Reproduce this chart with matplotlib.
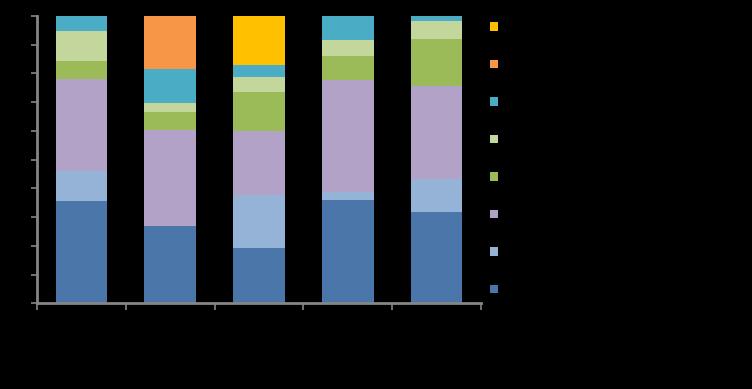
import matplotlib
matplotlib.use("Agg")
import matplotlib.pyplot as plt
from matplotlib.patches import Patch
import numpy as np

categories = ["Category 1", "Category 2", "Category 3", "Category 4", "Category 5"]
series_names = ["Series 1", "Series 2", "Series 3", "Series 4",
                "Series 5", "Series 6", "Series 7", "Series 8"]
s1 = [35.7, 27.0, 19.2, 35.9, 31.9]
s2 = [10.5, 0.0, 18.5, 3.0, 11.4]
s3 = [31.8, 33.4, 22.3, 38.9, 32.3]
s4 = [6.5, 6.3, 13.5, 8.3, 16.3]
s5 = [10.4, 3.1, 5.4, 5.6, 6.4]
s6 = [5.1, 11.8, 4.1, 8.3, 1.6]
s7 = [0.0, 18.4, 0.0, 0.0, 0.0]
s8 = [0.0, 0.0, 17.0, 0.0, 0.0]
yticks = [0, 10, 20, 30, 40, 50, 60, 70, 80, 90, 100]
ytick_labels = [f"{v}%" for v in yticks]

colors = ["#4A76AA", "#95B3D7", "#B3A2C7", "#9BBB59",
          "#C3D69B", "#4BACC6", "#F79646", "#FFC000"]

series = [s1, s2, s3, s4, s5, s6, s7, s8]

fig = plt.figure(figsize=(7.52, 3.89), dpi=100, facecolor="black")
ax = fig.add_axes([0.0492, 0.2198, 0.5904, 0.7391])
ax.set_facecolor("black")

x = np.arange(len(categories))
bottom = np.zeros(len(categories))
for vals, c, name in zip(series, colors, series_names):
    ax.bar(x, vals, bottom=bottom, width=0.58, color=c, label=name, zorder=2)
    bottom += np.array(vals)

ax.set_xlim(-0.5, len(categories) - 0.5)
ax.set_ylim(0, 100)
ax.set_yticks(yticks)
ax.set_yticklabels(ytick_labels, color="black", fontsize=7)
ax.set_xticks(x)
ax.set_xticklabels(categories, color="black", fontsize=9)
ax.set_xticks(np.arange(-0.5, len(categories)), minor=True)
ax.tick_params(axis="x", which="major", length=0)
ax.tick_params(axis="x", which="minor", length=5, color="#868686", width=1.2)
ax.tick_params(axis="y", which="major", length=4, color="#868686", width=1.2, pad=2)

for side in ["top", "right"]:
    ax.spines[side].set_visible(False)
for side in ["left", "bottom"]:
    ax.spines[side].set_color("#868686")
    ax.spines[side].set_linewidth(2)

handles = [Patch(facecolor=c, edgecolor="none") for c in colors][::-1]
labels = series_names[::-1]
fig.legend(handles, labels, loc="upper left", bbox_to_anchor=(0.637, 0.975),
           frameon=False, fontsize=9, labelcolor="black",
           handlelength=0.65, handleheight=0.65, labelspacing=1.96,
           handletextpad=0.8)

fig.savefig("out.png", dpi=100, facecolor="black")
